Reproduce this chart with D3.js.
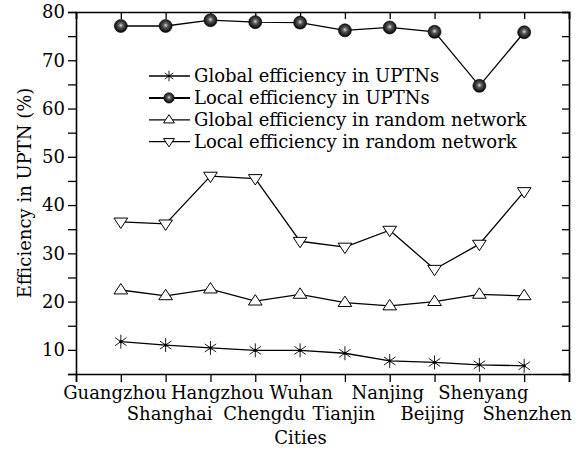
<!DOCTYPE html>
<html>
<head>
<meta charset="utf-8">
<script src="https://cdn.jsdelivr.net/npm/d3@7"></script>
<style>
  body { margin: 0; background: #fff; }
  text { font-family: "DejaVu Serif", "Liberation Serif", serif; fill: #000; }
</style>
</head>
<body>
<svg width="586" height="450"></svg>
<script>
// cities along the x axis (positions 1..10)
const cities = ["Guangzhou", "Shanghai", "Hangzhou", "Chengdu", "Wuhan",
                "Tianjin", "Nanjing", "Beijing", "Shenyang", "Shenzhen"];

const globalUPTN = [11.7, 11.0, 10.4, 9.9, 9.9, 9.3, 7.7, 7.4, 6.9, 6.7];
const localUPTN = [77.1, 77.1, 78.3, 77.9, 77.8, 76.2, 76.8, 75.9, 64.7, 75.8];
const globalRandom = [22.4, 21.2, 22.6, 20.1, 21.5, 19.8, 19.1, 20.0, 21.5, 21.2];
const localRandom = [36.5, 36.1, 46.0, 45.5, 32.5, 31.3, 34.8, 26.7, 31.9, 42.8];

const yTicks = [10, 20, 30, 40, 50, 60, 70, 80];

const series = [
    {name: "Global efficiency in UPTNs", values: globalUPTN, marker: "star"},
    {name: "Local efficiency in UPTNs", values: localUPTN, marker: "ball"},
    {name: "Global efficiency in random network", values: globalRandom, marker: "up"},
    {name: "Local efficiency in random network", values: localRandom, marker: "down"}
];

const FONT = "'DejaVu Serif', serif";

const svg = d3.select("svg");
const margin = {top: 12, right: 17, bottom: 76, left: 76};
const width = 586 - margin.left - margin.right;
const height = 450 - margin.top - margin.bottom;

const defs = svg.append("defs");
const grad = defs.append("radialGradient").attr("id", "ball")
    .attr("cx", "50%").attr("cy", "45%").attr("r", "55%");
grad.append("stop").attr("offset", "0%").attr("stop-color", "#d8d8d8");
grad.append("stop").attr("offset", "35%").attr("stop-color", "#555");
grad.append("stop").attr("offset", "100%").attr("stop-color", "#000");

const g = svg.append("g").attr("transform", `translate(${margin.left},${margin.top})`);

const x = d3.scaleLinear().domain([0, 11]).range([0, width]);
const y = d3.scaleLinear().domain([5, 80]).range([height, 0]);

const xTickVals = d3.range(0, 12);
const yMinor = d3.range(5, 81, 5);

// axes
g.append("g")
    .attr("transform", `translate(0,${height})`)
    .call(d3.axisBottom(x).tickValues(xTickVals).tickSize(8).tickFormat(""));
g.append("g")
    .call(d3.axisTop(x).tickValues(xTickVals).tickSize(-7).tickFormat(""));
g.append("g")
    .call(d3.axisLeft(y).tickValues(yMinor).tickSize(8)
        .tickFormat(d => yTicks.includes(d) ? d : ""));
g.append("g")
    .attr("transform", `translate(${width},0)`)
    .call(d3.axisRight(y).tickValues(yMinor).tickSize(-7).tickFormat(""));

g.selectAll(".domain").attr("stroke", "#000").attr("stroke-width", 1.6);
g.selectAll(".tick line").attr("stroke", "#000").attr("stroke-width", 1.3);
g.selectAll(".tick text").style("font-size", "18px")
    .style("font-family", FONT).attr("fill", "#000");

// staggered city labels, nudged sideways a little so neighbours don't collide
const nudge = [-6, 4, 7, 9, 1, -1, -2, -2, 4, 3];
g.selectAll(".city")
    .data(cities)
    .enter().append("text")
    .attr("class", "city")
    .attr("x", (d, i) => x(i + 1) + nudge[i])
    .attr("y", (d, i) => height + (i % 2 === 0 ? 25 : 46))
    .attr("text-anchor", "middle")
    .style("font-family", FONT)
    .style("font-size", "18px")
    .text(d => d);

g.append("text")
    .attr("x", width / 2 - 22)
    .attr("y", height + 70)
    .attr("text-anchor", "middle")
    .style("font-family", FONT)
    .style("font-size", "18px")
    .text("Cities");

svg.append("text")
    .attr("transform", `translate(31,${margin.top + height / 2}) rotate(-90)`)
    .attr("text-anchor", "middle")
    .style("font-family", FONT)
    .style("font-size", "18px")
    .text("Efficiency in UPTN (%)");

function drawMarker(sel, type, s) {
    if (type === "ball") {
        sel.append("circle").attr("r", 6.5 * s).attr("fill", "url(#ball)")
            .attr("stroke", "#000").attr("stroke-width", 0.6);
    } else if (type === "up") {
        const h = 6.5 * s;
        sel.append("path")
            .attr("d", `M0,${-h}L${h * 1.05},${h * 0.6}L${-h * 1.05},${h * 0.6}Z`)
            .attr("fill", "#fff").attr("stroke", "#000").attr("stroke-width", 1);
    } else if (type === "down") {
        const h = 6.5 * s;
        sel.append("path")
            .attr("d", `M0,${h}L${h * 1.05},${-h * 0.6}L${-h * 1.05},${-h * 0.6}Z`)
            .attr("fill", "#fff").attr("stroke", "#000").attr("stroke-width", 1);
    } else {
        const r = 7 * s;
        [90, 35, 145].forEach(a => {
            const rad = a * Math.PI / 180;
            sel.append("line")
                .attr("x1", -r * Math.cos(rad)).attr("y1", -r * Math.sin(rad))
                .attr("x2", r * Math.cos(rad)).attr("y2", r * Math.sin(rad))
                .attr("stroke", "#000").attr("stroke-width", 0.9);
        });
        sel.append("circle").attr("r", 1.6 * s).attr("fill", "#000");
    }
}

const line = d3.line().x((d, i) => x(i + 1)).y(d => y(d));

series.forEach(sr => {
    g.append("path")
        .datum(sr.values)
        .attr("fill", "none")
        .attr("stroke", "#000")
        .attr("stroke-width", 1.3)
        .attr("d", line);
    g.selectAll(null)
        .data(sr.values)
        .enter().append("g")
        .attr("transform", (d, i) => `translate(${x(i + 1)},${y(d)})`)
        .each(function() { drawMarker(d3.select(this), sr.marker, 1); });
});

// legend
const legend = svg.append("g").attr("transform", "translate(149,76)");
series.forEach((sr, i) => {
    const row = legend.append("g").attr("transform", `translate(0,${i * 21.9})`);
    row.append("line").attr("x1", 0).attr("x2", 41)
        .attr("stroke", "#000").attr("stroke-width", sr.marker === "ball" ? 2 : 1.3);
    const m = row.append("g").attr("transform", "translate(20,0)");
    drawMarker(m, sr.marker, sr.marker === "star" ? 0.75 : 0.8);
    row.append("text").attr("x", 45).attr("y", 6)
        .style("font-family", FONT)
        .style("font-size", "18px")
        .text(sr.name);
});
</script>
</body>
</html>
